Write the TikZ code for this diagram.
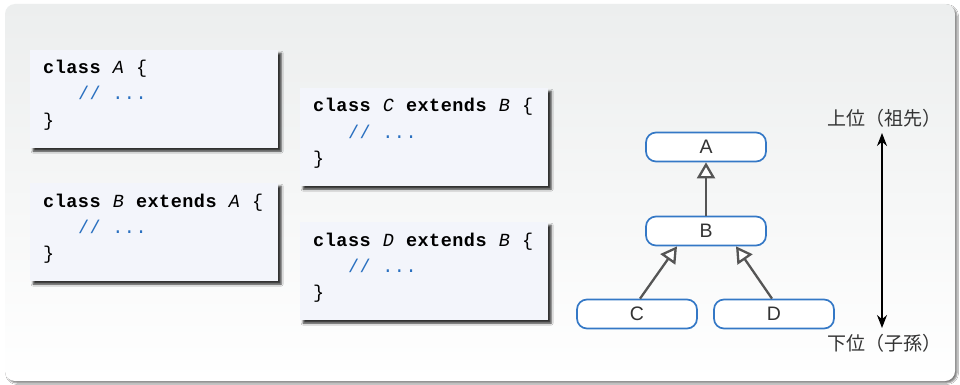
\documentclass[tikz,border=0pt]{standalone}
\usepackage{fontspec}
\setmainfont{Liberation Sans}
\setmonofont{Liberation Mono}
\newfontfamily\jpfont{Noto Sans CJK JP}
\usetikzlibrary{arrows.meta,shadows.blur,calc}

\definecolor{panelTop}{HTML}{ECEEEE}
\definecolor{codeBg}{HTML}{F3F5FB}
\definecolor{commentBlue}{HTML}{2A70C0}
\definecolor{nodeBlue}{HTML}{3478C6}
\definecolor{edgeGray}{HTML}{555555}
\definecolor{labelGray}{HTML}{333333}

\newcommand\codefont{\ttfamily\fontsize{18.5}{21}\selectfont\addfontfeature{LetterSpace=2.7}}
\newcommand\kw[1]{\textbf{#1}}
\newcommand\cls[1]{\textit{#1}}

\tikzset{
  codebox/.style={anchor=north west, fill=codeBg, minimum width=248pt,
    minimum height=98pt, inner sep=0pt,
    blur shadow={shadow xshift=3pt, shadow yshift=-3pt,
      shadow blur radius=2pt, shadow opacity=80}},
  codeline/.style={anchor=base west, inner sep=0pt, font=\codefont, text=black},
  commentline/.style={codeline, text=commentBlue},
  classnode/.style={draw=nodeBlue, line width=1.7pt, fill=white,
    rounded corners=10pt, minimum width=120pt, minimum height=29pt,
    inner sep=0pt, text=labelGray, font=\fontsize{19.5}{21}\selectfont},
  inherit/.style={draw=edgeGray, line width=2.3pt,
    -{Triangle[open, fill=white, length=16pt, width=18pt]}},
  rank/.style={text=labelGray, font=\jpfont\fontsize{19}{22}\selectfont, inner sep=0pt},
  level/.style={draw=black, line width=1.3pt,
    {Stealth[length=13pt, width=10pt]}-{Stealth[length=13pt, width=10pt]}}
}

\begin{document}
\begin{tikzpicture}[x=1pt, y=-1pt]
  \useasboundingbox (0,0) rectangle (960,385);
  \fill[white] (0,0) rectangle (960,385);

  % outer panel
  \path[rounded corners=10pt, top color=panelTop, bottom color=white,
    blur shadow={shadow xshift=2pt, shadow yshift=-2pt,
      shadow blur radius=1.5pt, shadow opacity=50}]
    (5,4) rectangle (955,381);

  % class A
  \node[codebox] (boxA) at (30,50) {};
  \node[codeline] (a1) at (43,74) {\kw{class} \cls{A} \{};
  \node[commentline] (a2) at (43,100) {~~~// ...};
  \node[codeline] (a3) at (43,126) {\}};

  % class B
  \node[codebox] (boxB) at (30,183) {};
  \node[codeline] (b1) at (43,207) {\kw{class} \cls{B} \kw{extends} \cls{A} \{};
  \node[commentline] (b2) at (43,233) {~~~// ...};
  \node[codeline] (b3) at (43,259) {\}};

  % class C
  \node[codebox] (boxC) at (300,88) {};
  \node[codeline] (c1) at (313,112) {\kw{class} \cls{C} \kw{extends} \cls{B} \{};
  \node[commentline] (c2) at (313,138) {~~~// ...};
  \node[codeline] (c3) at (313,164) {\}};

  % class D
  \node[codebox] (boxD) at (300,222) {};
  \node[codeline] (d1) at (313,246) {\kw{class} \cls{D} \kw{extends} \cls{B} \{};
  \node[commentline] (d2) at (313,272) {~~~// ...};
  \node[codeline] (d3) at (313,298) {\}};

  % hierarchy
  \node[classnode] (A) at (706,147) {A};
  \node[classnode] (B) at (706,231) {B};
  \node[classnode] (C) at (637,314) {C};
  \node[classnode] (D) at (774,314) {D};

  \draw[inherit] (B.north) -- (A.south);
  \draw[inherit] ($(C.north)+(3,0)$) -- ($(B.south)+(-29,0)$);
  \draw[inherit] ($(D.north)+(-2,0)$) -- ($(B.south)+(30,0)$);

  % ancestor / descendant axis
  \node[rank] (upper) at (884,118) {上位（祖先）};
  \node[rank] (lower) at (884,343) {下位（子孫）};
  \coordinate (axisTop) at (882,133);
  \coordinate (axisBot) at (882,328);
  \draw[level] (axisTop) -- (axisBot);
\end{tikzpicture}
\end{document}
